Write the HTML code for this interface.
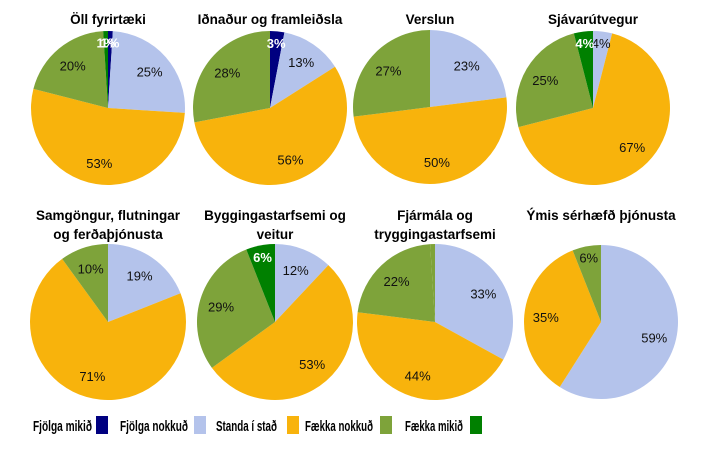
<!DOCTYPE html>
<html><head><meta charset="utf-8"><style>
body{margin:0;background:#fff}
svg{display:block;font-family:"Liberation Sans",sans-serif}
</style></head><body>
<svg id="s" width="710" height="458" viewBox="0 0 710 458"></svg>
<script>
const C=["#000080","#b4c3eb","#f8b30c","#7ea33a","#008000"];
const pies=[
 {cx:108,cy:108,r:77,d:[1,25,53,20,1],t:["Öll fyrirtæki"]},
 {cx:270,cy:108,r:77,d:[3,13,56,28,0],t:["Iðnaður og framleiðsla"]},
 {cx:430,cy:107,r:77,d:[0,23,50,27,0],t:["Verslun"]},
 {cx:593,cy:108,r:77,d:[0,4,67,25,4],t:["Sjávarútvegur"]},
 {cx:108,cy:322,r:78,d:[0,19,71,10,0],t:["Samgöngur, flutningar","og ferðaþjónusta"]},
 {cx:275,cy:322,r:78,d:[0,12,53,29,6],t:["Byggingastarfsemi og","veitur"]},
 {cx:435,cy:322,r:78,d:[0,33,44,22,1],t:["Fjármála og","tryggingastarfsemi"]},
 {cx:601,cy:322,r:77,d:[0,59,35,6,0],t:["Ýmis sérhæfð þjónusta"]}];
let h="";
pies.forEach((p,i)=>{
 let a=0;
 const tot=p.d.reduce((s,v)=>s+v,0);
 p.d.forEach((v,k)=>{
  if(!v)return;
  const a0=a,a1=a+v/tot*2*Math.PI;a=a1;
  const x0=p.cx+p.r*Math.sin(a0),y0=p.cy-p.r*Math.cos(a0),x1=p.cx+p.r*Math.sin(a1),y1=p.cy-p.r*Math.cos(a1);
  const fill=(i==6&&k==4)?C[3]:C[k];
  h+=`<path d="M${p.cx},${p.cy}L${x0},${y0}A${p.r},${p.r} 0 ${a1-a0>Math.PI?1:0} 1 ${x1},${y1}Z" fill="${fill}"/>`;
 });
 a=0;
 p.d.forEach((v,k)=>{
  if(!v)return;
  const m=a+v/tot*Math.PI;a+=v/tot*2*Math.PI;
  if(i==6&&k==4)return;
  const rr=v<8?p.r*0.85:p.r*0.72;
  const x=p.cx+rr*Math.sin(m),y=p.cy-rr*Math.cos(m)+5;
  const col=(k==0||k==4)?"#fff":"#111";
  h+=`<text x="${x}" y="${y}" font-size="13" text-anchor="middle" fill="${col}" ${col=="#fff"?'font-weight="bold"':''}>${v}%</text>`;
 });
 const ty=i<4?24:220;
 p.t.forEach((t,j)=>{h+=`<text x="${p.cx}" y="${ty+j*19}" font-size="13.5" font-weight="bold" text-anchor="middle" fill="#000">${t}</text>`});
});
const L=[["Fjölga mikið",33,96,59],["Fjölga nokkuð",120,194,68],["Standa í stað",216,287,61],["Fækka nokkuð",305,380,68],["Fækka mikið",405,470,58]];
L.forEach((l,k)=>{
 h+=`<text x="${l[1]}" y="431" font-size="15" font-weight="bold" textLength="${l[3]}" lengthAdjust="spacingAndGlyphs">${l[0]}</text>`;
 h+=`<rect x="${l[2]}" y="416" width="12" height="18" fill="${C[k]}"/>`;
});
document.getElementById("s").innerHTML=h;
</script>
</body></html>
